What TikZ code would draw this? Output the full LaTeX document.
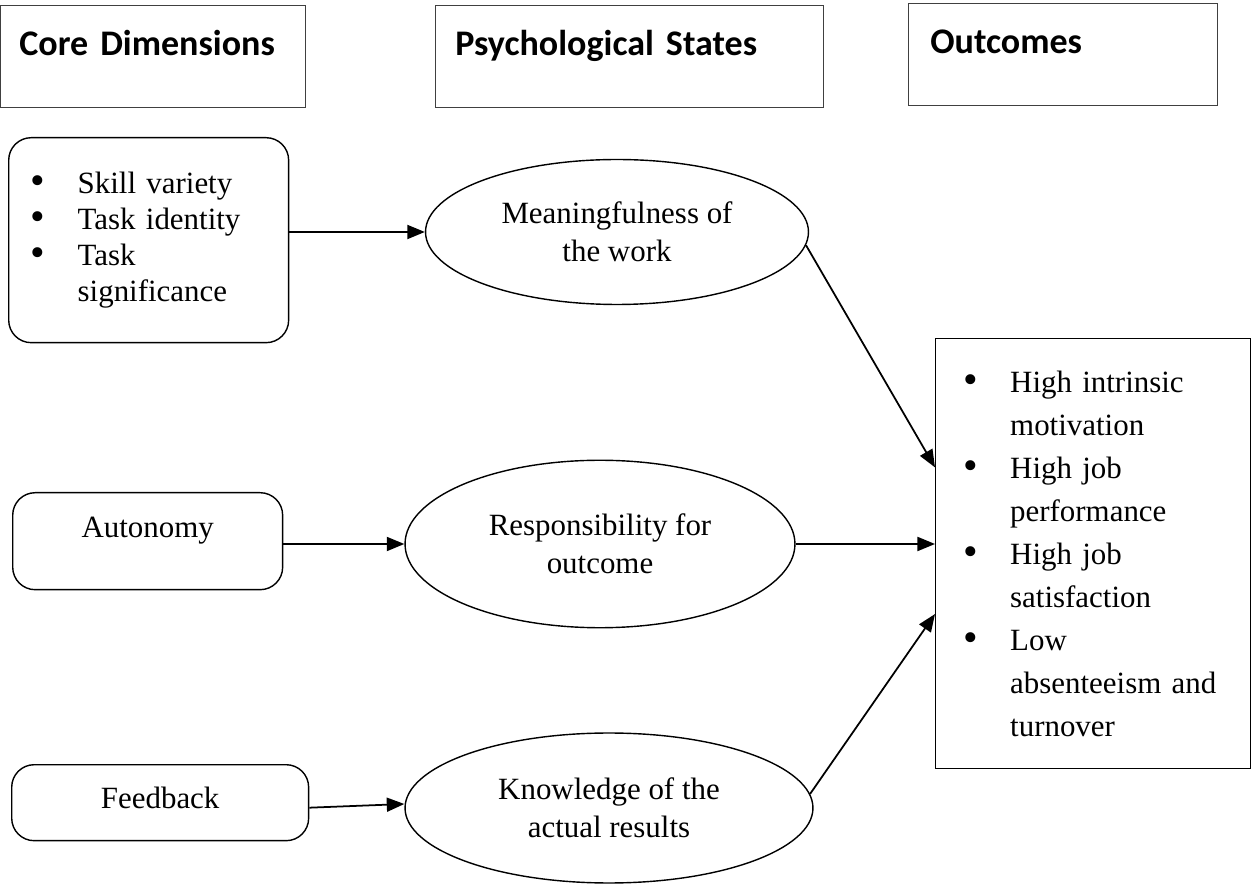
\documentclass[tikz,border=0pt]{standalone}
\usepackage{fontspec}
\setmainfont{Liberation Serif}
\newfontfamily\headfont{Carlito}
\usetikzlibrary{shapes.geometric,arrows.meta,calc}

\newcommand\blt{\makebox[0.94cm][l]{\smash{\raisebox{-0.04em}{\scalebox{1.35}{\textbullet}}}}}
\newcommand\bltgap{\hspace*{0.94cm}}

\begin{document}
\begin{tikzpicture}[x=0.02cm, y=-0.02cm]
  % Sizes
  \def\bodyfs{\fontsize{17.6}{20.5}\selectfont}
  \def\listfs{\fontsize{17.6}{24.5}\selectfont}
  \def\headfs{\fontsize{20.5}{24}\headfont\bfseries}
  %
  \tikzset{
    headbox/.style={draw=black!75, thin, anchor=north west, inner xsep=0.38cm, inner ysep=0pt,
                    text height=1cm, text depth=1.04cm, align=left, font=\headfs},
    dimbox/.style={draw, line width=0.8pt, rounded corners=0.45cm, anchor=north west,
                   inner sep=0pt, font=\bodyfs},
    stateell/.style={draw, line width=0.8pt, ellipse, inner sep=0pt, align=center,
                     font=\fontsize{17.6}{21.5}\selectfont},
    outbox/.style={draw, line width=0.8pt, anchor=north west, inner xsep=0.55cm,
                   inner ysep=0pt, align=left, font=\listfs},
    arr/.style={line width=1pt, -{Triangle[length=10pt,width=8pt]}},
  }
  \useasboundingbox (0,0) rectangle (1251,884);
  %
  %%% HEADINGS %%%
  \node[headbox, text width=5.34cm] (hcore) at (0,5) {Core Dimensions};
  \node[headbox, inner xsep=0.4cm, text width=6.96cm] (hpsych) at (435,5) {Psychological States};
  \node[headbox, inner xsep=0.44cm, text width=5.3cm] (hout) at (908,3) {Outcomes};
  %
  %%% CORE DIMENSIONS %%%
  \node[dimbox, inner xsep=0.44cm, text width=4.72cm, minimum height=4.1cm, align=left]
    (skills) at (8,137) {\blt Skill variety\\ \blt Task identity\\ \blt Task\\ \bltgap significance};
  \node[dimbox, text width=5.4cm, align=center, text height=0.9cm, text depth=1.04cm]
    (auto) at (12,492) {Autonomy};
  \node[dimbox, text width=5.94cm, align=center, text height=0.88cm, text depth=0.64cm]
    (feed) at (11,764) {Feedback};
  %
  %%% PSYCHOLOGICAL STATES %%%
  \node[stateell, minimum width=7.66cm, minimum height=2.9cm] (mean) at (617,232) {Meaningfulness of\\the work};
  \node[stateell, minimum width=7.8cm, minimum height=3.35cm] (resp) at (600,544) {Responsibility for\\outcome};
  \node[stateell, minimum width=8.16cm, minimum height=3.0cm] (know) at (609,808) {Knowledge of the\\actual results};
  %
  %%% OUTCOMES %%%
  \node[outbox, text width=5.2cm, minimum height=8.6cm] (outc) at (935,338)
    {\blt High intrinsic\\ \bltgap motivation\\ \blt High job\\ \bltgap performance\\
     \blt High job\\ \bltgap satisfaction\\ \blt Low\\ \bltgap absenteeism and\\ \bltgap turnover};
  %
  % Connectors
  \draw[arr] (skills.east |- mean.west) -- (mean.west);
  \draw[arr] (auto.east |- resp.west) -- (resp.west);
  \draw[arr] ([yshift=-0.1cm]feed.east) -- ([yshift=0.08cm]know.west);
  \draw[arr] (mean.-4) -- ($(outc.north west)!0.3!(outc.south west)$);
  \draw[arr] (resp.east) -- (resp.east -| outc.west);
  \draw[arr] (know.4) -- ($(outc.north west)!0.64!(outc.south west)$);
\end{tikzpicture}
\end{document}
